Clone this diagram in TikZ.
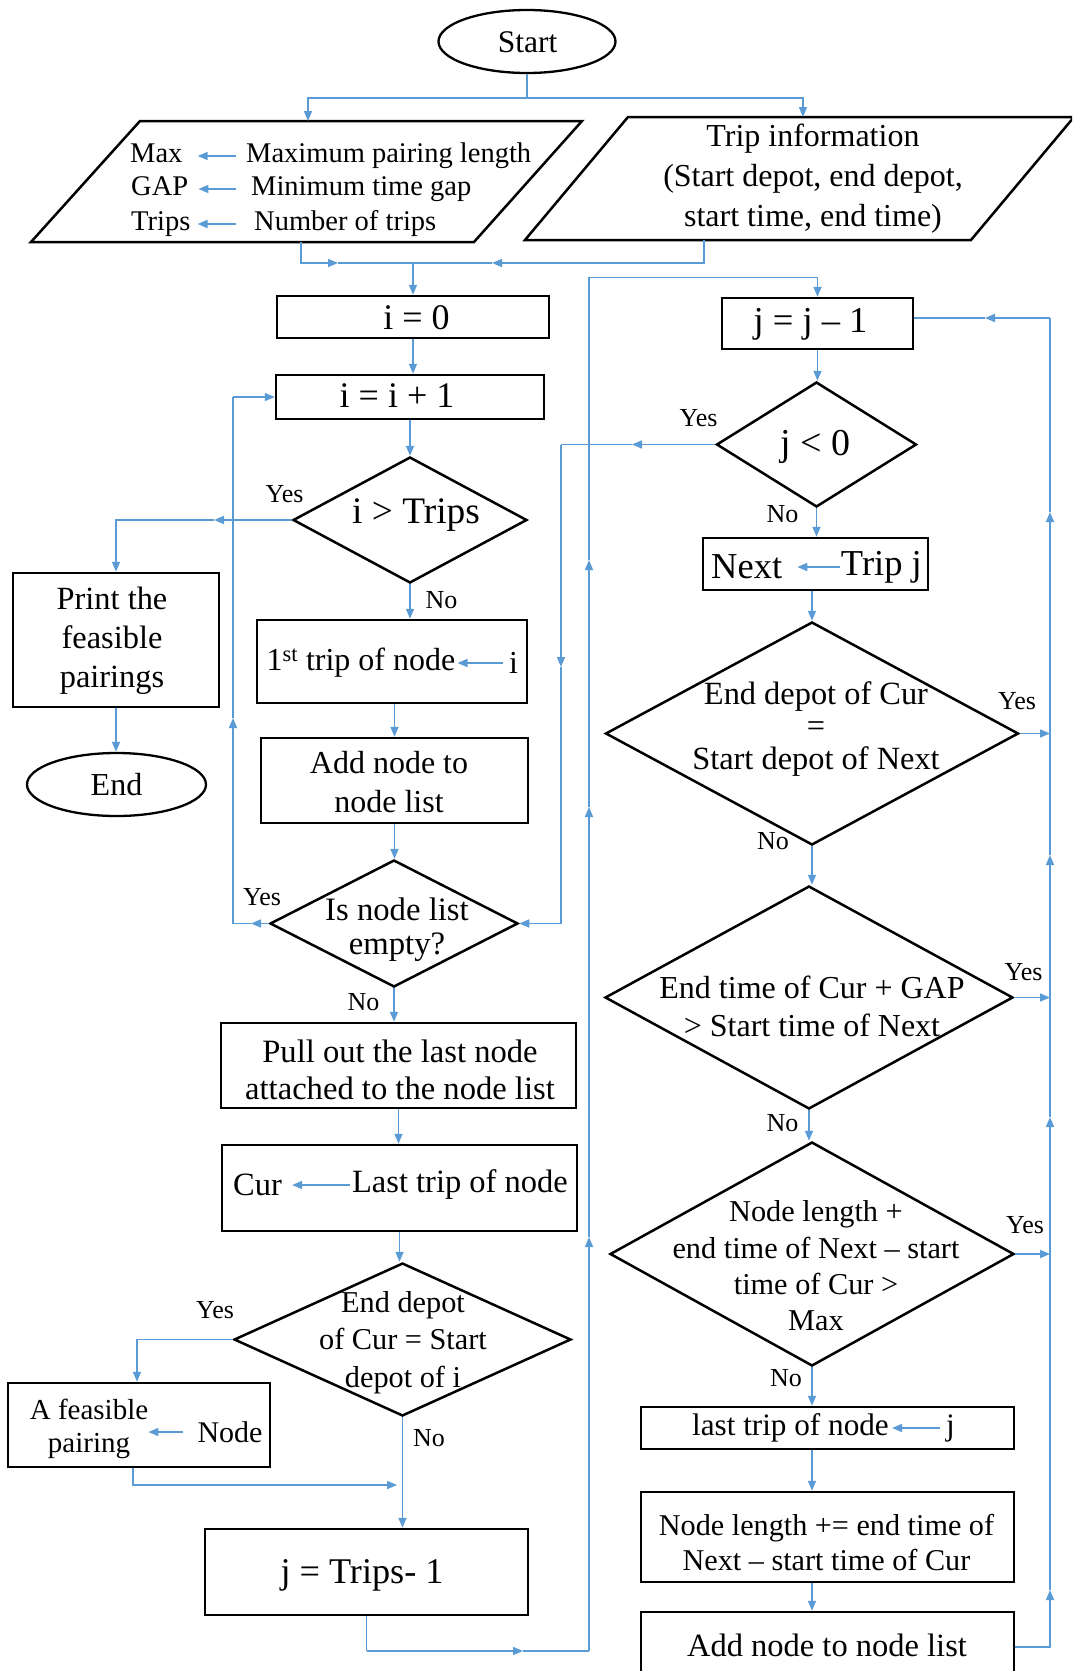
\documentclass[tikz,border=0pt]{standalone}
\usepackage{fontspec}
\setmainfont{Liberation Serif}
\usetikzlibrary{shapes.geometric,arrows.meta}
\definecolor{lineblue}{RGB}{91,155,213}
\newcommand\fsz[2]{\fontsize{#1pt}{#2pt}\selectfont}
\begin{document}
\begin{tikzpicture}[x=1pt,y=-1pt,
  box/.style={draw=black,line width=2.5pt,rectangle,inner sep=0pt},
  dia/.style={draw=black,line width=2.5pt,diamond,inner sep=0pt},
  ell/.style={draw=black,line width=2.3pt,ellipse,inner sep=0pt},
  pbox/.style={draw=black,line width=2.5pt,line join=miter},
  txt/.style={inner sep=0pt,align=center},
  row/.style={inner sep=0pt,anchor=west,font=\fsz{28.5}{34},text height=19pt,text depth=6pt},
  conn/.style={draw=lineblue,line width=1.6pt},
  arr/.style={conn,-{Triangle[length=10pt,width=8pt]}},
  yn/.style={inner sep=0pt,font=\fsz{26}{30}}]
\useasboundingbox (0,0) rectangle (1072,1671);
\fill[white] (0,0) rectangle (1072,1671);
\clip (0,0) rectangle (1072,1671);

% ---------- top ----------
\node[ell,minimum width=177pt,minimum height=63pt] (start) at (527,41.5) {};
\node[txt,font=\fsz{31.5}{38}] (startT) at (527.5,42) {Start};

\draw[pbox] (140,121) -- (582,121) -- (474,242) -- (31,242) -- cycle;
\draw[pbox] (628,117) -- (1074,117) -- (971,240) -- (525,240) -- cycle;
\coordinate (lptop) at (308,121); \coordinate (lpbot) at (301,242);
\coordinate (rptop) at (803,117); \coordinate (rpbot) at (704,240);

\node[row] (r1a) at (130,156) {Max};
\node[row] (r1b) at (246,156) {Maximum pairing length};
\node[row] (r2a) at (131,189) {GAP};
\node[row] (r2b) at (251,189) {Minimum time gap};
\node[row] (r3a) at (131,224) {Trips};
\node[row] (r3b) at (254,224) {Number of trips};
\draw[arr] ([xshift=-10pt]r1b.west) -- ([xshift=15pt]r1a.east);
\draw[arr] ([xshift=-15pt]r2b.west) -- ([xshift=10pt]r2a.east);
\draw[arr] ([xshift=-18pt]r3b.west) -- ([xshift=7pt]r3a.east);

\node[txt,font=\fsz{32}{40}] (rpT) at (813,179) {Trip information\\(Start depot, end depot,\\start time, end time)};

% ---------- left column ----------
\node[box,minimum width=272pt,minimum height=42pt] (i0) at (413,317) {};
\node[txt,font=\fsz{36}{42}] (i0T) at (416.5,317.5) {i = 0};
\node[box,minimum width=268pt,minimum height=44pt] (ii1) at (410,397) {};
\node[txt,font=\fsz{36}{42}] (ii1T) at (397,396) {i = i + 1};
\node[dia,minimum width=234pt,minimum height=126pt] (itr) at (410,520) {};
\node[txt,font=\fsz{37.4}{44}] (itrT) at (416,515) {i > Trips};
\node[box,minimum width=206pt,minimum height=134pt] (print) at (116,640) {};
\node[txt,font=\fsz{32.4}{39}] (printT) at (112,641) {Print the\\feasible\\pairings};
\node[ell,minimum width=179pt,minimum height=63pt] (end) at (116.5,784.5) {};
\node[txt,font=\fsz{32}{38}] (endT) at (116.5,785) {End};
\node[box,minimum width=270pt,minimum height=83pt] (first) at (392,661.5) {};
\node[txt,anchor=east,font=\fsz{32}{38}] (firstL) at (455.5,663) {1\textsuperscript{st} trip of node};
\node[txt,anchor=west,font=\fsz{32}{38}] (firstR) at (509,663) {i};
\draw[arr] ([xshift=-6pt]firstR.west) -- ([xshift=2pt]firstL.east);
\node[box,minimum width=267pt,minimum height=85pt] (addn) at (394.5,780.5) {};
\node[txt,font=\fsz{32}{38.7}] (addnT) at (389,782) {Add node to\\node list};
\node[dia,minimum width=248pt,minimum height=127pt] (empty) at (394,923.5) {};
\node[txt,font=\fsz{32.7}{33.7}] (emptyT) at (397,930) {Is node list\\empty?};
\node[box,minimum width=355pt,minimum height=85pt] (pull) at (398.5,1065.5) {};
\node[txt,font=\fsz{32.6}{36.6}] (pullT) at (400,1070) {Pull out the last node\\attached to the node list};
\node[box,minimum width=355pt,minimum height=86pt] (cur) at (399.5,1188) {};
\node[txt,anchor=west,font=\fsz{32.5}{38}] (curL) at (233,1185) {Cur};
\node[txt,anchor=east,font=\fsz{32.5}{38}] (curR) at (568,1185) {Last trip of node};
\draw[arr] ([xshift=-2pt]curR.west) -- ([xshift=10pt]curL.east);
\node[dia,minimum width=337pt,minimum height=153pt] (ed1) at (402.5,1339.5) {};
\node[txt,font=\fsz{30.3}{37.5}] (ed1T) at (403,1342.5) {End depot\\of Cur = Start\\depot of i};
\node[box,minimum width=262pt,minimum height=84pt] (feas) at (139,1425) {};
\node[txt,font=\fsz{29}{33}] (feasT) at (89,1428.5) {A feasible\\pairing};
\node[txt,font=\fsz{30}{36}] (feasN) at (230,1432) {Node};
\draw[arr] ([xshift=-14pt]feasN.west) -- (feasN.west -| feasT.east);
\node[box,minimum width=323pt,minimum height=86pt] (jtr) at (366.5,1572) {};
\node[txt,font=\fsz{36.2}{42}] (jtrT) at (362,1575) {j = Trips- 1};

% ---------- right column ----------
\node[box,minimum width=191pt,minimum height=51pt] (jj1) at (817.5,323.5) {};
\node[txt,font=\fsz{36.5}{42}] (jj1T) at (810.5,324.5) {j = j – 1};
\node[dia,minimum width=200pt,minimum height=125pt] (jlt) at (816.5,444.5) {};
\node[txt,font=\fsz{38}{44}] (jltT) at (815.5,447) {j < 0};
\node[box,minimum width=225pt,minimum height=52pt] (next) at (815.5,564) {};
\node[txt,anchor=west,font=\fsz{36.5}{42}] (nextL) at (711,567) {Next};
\node[txt,anchor=east,font=\fsz{36.5}{42}] (nextR) at (922,567) {Trip j};
\draw[arr] ([xshift=-1pt]nextR.west) -- ([xshift=15pt]nextL.east);
\node[dia,minimum width=413pt,minimum height=223pt] (ed2) at (812,733.5) {};
\node[txt,font=\fsz{32.4}{32.5}] (ed2T) at (816,729) {End depot of Cur\\=\\Start depot of Next};
\node[dia,minimum width=408pt,minimum height=223pt] (et) at (809,997.5) {};
\node[txt,font=\fsz{32}{38}] (etT) at (812,1006) {End time of Cur + GAP\\> Start time of Next};
\node[dia,minimum width=404pt,minimum height=224pt] (nld) at (812,1254) {};
\node[txt,font=\fsz{30.3}{36.3}] (nldT) at (816,1266) {Node length +\\end time of Next – start\\time of Cur >\\Max};
\node[box,minimum width=373pt,minimum height=42pt] (last) at (827.5,1428) {};
\node[txt,anchor=east,font=\fsz{31.2}{37}] (lastL) at (889,1428) {last trip of node};
\node[txt,anchor=west,font=\fsz{31.2}{37}] (lastR) at (946,1428) {j};
\draw[arr] ([xshift=-6pt]lastR.west) -- ([xshift=3pt]lastL.east);
\node[box,minimum width=373pt,minimum height=90pt] (nl) at (827.5,1537) {};
\node[txt,font=\fsz{30.2}{35}] (nlT) at (826.5,1542) {Node length += end time of\\Next – start time of Cur};
\node[box,minimum width=373pt,minimum height=70pt] (addl) at (827.5,1647) {};
\node[txt,font=\fsz{32.5}{38}] (addlT) at (827,1645) {Add node to node list};

% ---------- Yes / No labels ----------
\node[yn] at (284.5,494) {Yes};
\node[yn] at (441.6,600) {No};
\node[yn] at (698.5,418) {Yes};
\node[yn] at (782.6,514) {No};
\node[yn] at (262,897) {Yes};
\node[yn] at (363.6,1002) {No};
\node[yn] at (1017,701.6) {Yes};
\node[yn] at (773,841) {No};
\node[yn] at (1023.5,972) {Yes};
\node[yn] at (782.6,1123) {No};
\node[yn] at (1025,1225) {Yes};
\node[yn] at (786,1378) {No};
\node[yn] at (215,1310) {Yes};
\node[yn] at (429,1438) {No};

% ---------- connectors ----------
\coordinate (s1) at (527,98);
\draw[conn] (start.south) -- (s1);
\draw[arr] (s1) -| (lptop);
\draw[arr] (s1) -| (rptop);

\coordinate (mL) at (338,263); \coordinate (mR) at (492,263); \coordinate (mC) at (413,263);
\draw[arr] (lpbot) |- (mL);
\draw[conn] (mL) -- (mC);
\draw[arr] (rpbot) |- (mR);
\draw[conn] (mR) -- (mC);
\draw[arr] (mC) -- (mC |- i0.north);

\draw[arr] (i0.south) -- (i0.south |- ii1.north);
\draw[arr] (ii1.south) -- (ii1.south |- itr.north);

\coordinate (y1a) at (214,520);
\draw[arr] (itr.west) -- (y1a);
\draw[arr] (y1a) -| (print.north);
\draw[arr] (print.south) -- (print.south |- end.north);
\draw[arr] (itr.south) -- (itr.south |- first.north);
\draw[arr] (first.south -| addn) -- (addn.north);
\draw[arr] (addn.south) -- (addn.south |- empty.north);

\coordinate (e1) at (251,923.5); \coordinate (e2) at (233,923.5);
\coordinate (e3) at (233,718); \coordinate (e4) at (233,397);
\draw[arr] (empty.west) -- (e1);
\draw[conn] (e1) -- (e2);
\draw[arr] (e2) -- (e3);
\draw[conn] (e3) -- (e4);
\draw[arr] (e4) -- (e4 -| ii1.west);

\coordinate (j1) at (632,444.5); \coordinate (j2) at (561,444.5);
\coordinate (j3) at (561,667); \coordinate (j4) at (561,923.5);
\draw[arr] (jlt.west) -- (j1);
\draw[conn] (j1) -- (j2);
\draw[arr] (j2) -- (j3);
\draw[conn] (j3) -- (j4);
\draw[arr] (j4) -- (empty.east);

\draw[arr] (empty.south) -- (empty.south |- pull.north);
\draw[arr] (pull.south) -- (pull.south |- cur.north);
\draw[arr] (cur.south) -- (cur.south |- ed1.north);

\coordinate (f1) at (137,1339.5);
\draw[arr] (ed1.west) -- (f1) -- (f1 |- feas.north);
\coordinate (f2) at (133,1485); \coordinate (f3) at (397,1485);
\draw[arr] (f2 |- feas.south) -- (f2) -- (f3);
\draw[arr] (ed1.south) -- (ed1.south |- jtr.north);

\coordinate (g1) at (366.5,1651); \coordinate (g2) at (523,1651);
\coordinate (g3) at (589,1651); \coordinate (g4) at (589,1237);
\coordinate (g5) at (589,807); \coordinate (g6) at (589,560);
\coordinate (g7) at (589,277.5);
\draw[conn] (jtr.south) -- (g1);
\draw[arr] (g1) -- (g2);
\draw[conn] (g2) -- (g3);
\draw[arr] (g3) -- (g4);
\draw[arr] (g4) -- (g5);
\draw[arr] (g5) -- (g6);
\draw[arr] (g6) -- (g7) -| (jj1.north);

\draw[arr] (jj1.south) -- (jj1.south |- jlt.north);
\draw[arr] (jlt.south) -- (jlt.south |- next.north);
\draw[arr] (next.south -| ed2) -- (ed2.north);
\draw[arr] (ed2.south) -- (ed2.south |- et.north);
\draw[arr] (et.south) -- (et.south |- nld.north);
\draw[arr] (nld.south) -- (nld.south |- last.north);
\draw[arr] (last.south -| nld) -- (nl.north -| nld);
\draw[arr] (nl.south -| nld) -- (addl.north -| nld);

\coordinate (q1) at (1050,1590); \coordinate (q2) at (1050,1117);
\coordinate (q3) at (1050,855); \coordinate (q4) at (1050,512);
\coordinate (q5) at (1050,318); \coordinate (q6) at (985,318);
\draw[arr] (addl.east) -| (q1);
\draw[arr] (q1) -- (q2);
\draw[arr] (q2) -- (q3);
\draw[arr] (q3) -- (q4);
\draw[conn] (q4) -- (q5);
\draw[arr] (q5) -- (q6);
\draw[conn] (q6) -- (q6 -| jj1.east);

\draw[arr] (ed2.east) -- (ed2.east -| q1);
\draw[arr] (et.east) -- (et.east -| q1);
\draw[arr] (nld.east) -- (nld.east -| q1);
\end{tikzpicture}
\end{document}
